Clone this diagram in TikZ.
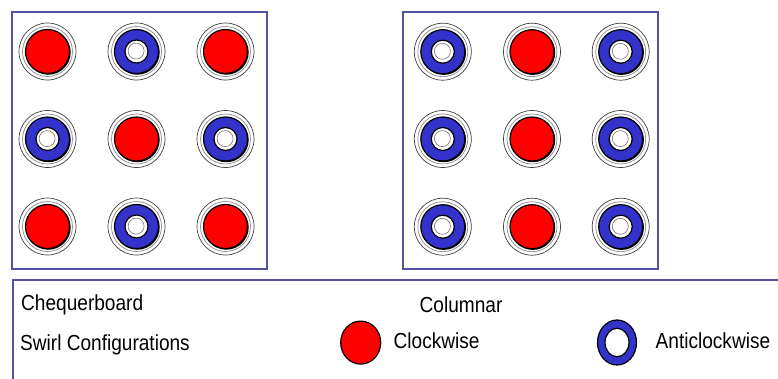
\documentclass[tikz,border=0pt]{standalone}
\usepackage{fontspec}
\setmainfont[FakeStretch=0.875]{Liberation Sans}
\usetikzlibrary{shapes.geometric}
\definecolor{framecol}{RGB}{82,82,160}
\definecolor{swirlblue}{RGB}{51,51,204}
\definecolor{swirlred}{RGB}{255,0,0}
\begin{document}
\begin{tikzpicture}[x=1pt,y=-1pt,
  panel/.style={draw=framecol,line width=2pt,inner sep=0pt,rectangle},
  cw/.style={circle,inner sep=0pt,minimum size=44pt,fill=swirlred,draw=black,line width=1.2pt},
  acw/.style={circle,inner sep=0pt,minimum size=44pt,fill=swirlblue,draw=black,line width=1.2pt},
  halo/.style={draw=black!75,line width=0.7pt},
  halotwo/.style={draw=black!45,line width=0.7pt},
  core/.style={fill=white,draw=black,line width=1.2pt},
  inring/.style={draw=black!55,line width=0.6pt},
  txt/.style={anchor=base west,inner sep=0pt,font=\fontsize{21.8}{26}\selectfont},
  keycw/.style={ellipse,inner sep=0pt,draw=black,line width=1.2pt,fill=swirlred,minimum width=40pt,minimum height=43pt},
  keyacw/.style={ellipse,inner sep=0pt,draw=black,line width=1.2pt,fill=swirlblue,minimum width=39pt,minimum height=45pt},
  keycore/.style={ellipse,inner sep=0pt,draw=black,line width=1.2pt,fill=white,minimum width=24pt,minimum height=28.5pt},
]
\useasboundingbox (0,0) rectangle (778,378);
\fill[white] (0,0) rectangle (778,378);

% panels
\node[panel,minimum width=255.5pt,minimum height=257pt] (chq) at (139.25,140.5) {};
\node[panel,minimum width=255pt,minimum height=257pt] (col) at (530.5,140.5) {};
\node[panel,anchor=north west,minimum width=820pt,minimum height=130pt] (legend) at (11.5,279) {};

% clockwise cells
\foreach \n/\x/\y in {L11/47.5/51.5, L13/225.5/51.5, L22/136.5/139, L31/47.5/226.5, L33/225.5/226.5,
                      R12/532/51.7, R22/532/139, R32/532/226.7}{
  \draw[halo] (\x,\y) circle (28.5pt);
  \draw[halotwo] (\x,\y) circle (25pt);
  \fill[black] (\x+0.8,\y+0.8) circle (22.4pt);
  \node[cw] (\n) at (\x,\y) {};
}

% anticlockwise cells
\foreach \n/\x/\y in {L12/136.5/51.5, L21/47.5/139, L23/225.5/139, L32/136.5/226.5,
                      R11/442.8/51.7, R13/620.7/51.7, R21/442.8/139, R23/620.7/139, R31/442.8/226.7, R33/620.7/226.7}{
  \draw[halo] (\x,\y) circle (28.5pt);
  \draw[halotwo] (\x,\y) circle (25pt);
  \fill[black] (\x+0.8,\y+0.8) circle (22.4pt);
  \node[acw] (\n) at (\x,\y) {};
  \draw[core] (\n.center) circle (11.5pt);
  \draw[inring] (\x-0.4,\y-0.4) circle (8pt);
}

% legend
\node[txt] (tchq) at (21,310) {Chequerboard};
\node[txt] (tcol) at (419.5,312.5) {Columnar};
\node[txt] (tswirl) at (20,350.5) {Swirl Configurations};
\node[keycw] (kcw) at (360.7,342.6) {};
\node[txt] (tcw) at (393.5,348.3) {Clockwise};
\node[keyacw] (kacw) at (617,342.5) {};
\node[keycore] (kacwcore) at (617,342.5) {};
\node[txt] (tacw) at (655.5,348.3) {Anticlockwise};
\end{tikzpicture}
\end{document}
